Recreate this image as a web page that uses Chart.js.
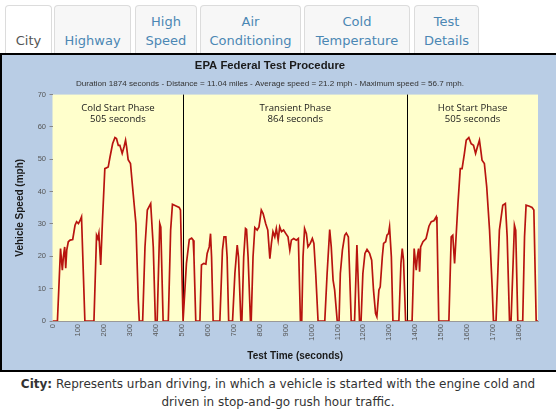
<!DOCTYPE html>
<html>
<head>
<meta charset="utf-8">
<script src="https://cdn.jsdelivr.net/npm/chart.js@4.4.1/dist/chart.umd.min.js"></script>
<style>
  html,body{margin:0;padding:0;}
  body{width:556px;height:413px;overflow:hidden;background:#fff;position:relative;font-family:'DejaVu Sans',Verdana,sans-serif;}
  .tab{position:absolute;top:5px;height:48px;box-sizing:border-box;border:1px solid #dcdcdc;border-bottom:none;border-radius:4px 4px 0 0;background:#f7f7f7;color:#4b87b4;font-size:13px;line-height:18.4px;text-align:center;display:flex;flex-direction:column;justify-content:flex-end;padding-bottom:3px;}
  .tab.active{background:#fff;color:#555;}
  #panel{position:absolute;left:0;top:53px;width:560px;height:315px;border:2px solid #000;background:#b9cde5;}
  #panel canvas{position:absolute;left:0;top:0;}
  #caption{position:absolute;left:0;top:375px;width:556px;text-align:center;font-size:12px;line-height:18px;color:#333;}
</style>
</head>
<body>
<div class="tab active" style="left:5px;width:47px;">City</div>
<div class="tab" style="left:54px;width:77px;">Highway</div>
<div class="tab" style="left:135px;width:62px;">High<br>Speed</div>
<div class="tab" style="left:200px;width:101px;">Air<br>Conditioning</div>
<div class="tab" style="left:304px;width:106px;">Cold<br>Temperature</div>
<div class="tab" style="left:414px;width:65px;">Test<br>Details</div>
<div id="panel"><canvas id="c" width="552" height="315"></canvas></div>
<div id="caption"><b>City:</b> Represents urban driving, in which a vehicle is started with the engine cold and<br>driven in stop-and-go rush hour traffic.</div>
<script>
// ---- data ----
const timeSec = [
  0,19,31,38,42,47,51,55,61,68,78,87,93,100,106,112,125,160,170,175,179,186,193,202,215,222,232,241,247,254,260,269,276,282,286,292,301,309,322,331,335,348,357,366,379,389,397,404,414,418,427,447,456,463,479,489,494,504,
  507,517,528,537,543,546,553,569,575,584,592,597,605,610,614,620,646,656,662,669,674,680,695,704,713,718,727,731,738,745,749,755,764,767,774,781,790,797,806,813,823,831,839,845,851,858,864,871,877,884,892,900,909,916,922,931,941,949,954,957,962,967,973,980,986,995,1003,1009,1016,1025,1051,1060,1070,1076,1083,1089,1099,1106,1111,1119,1128,1134,1142,1147,1153,1166,1175,1179,1185,1191,1198,1206,1214,1224,1232,1239,1247,1252,1260,1265,1273,1278,1286,1291,1297,1301,1308,1314,1337,1345,1350,1355,1363,
  1388,1396,1404,1408,1413,1417,1421,1430,1442,1453,1462,1472,1481,1484,1491,1530,1539,1545,1552,1565,1574,1581,1590,1597,1607,1616,1625,1633,1640,1648,1654,1658,1667,1676,1687,1697,1702,1712,1725,1738,1748,1755,1764,1770,1783,1788,1796,1815,1822,1828,1841,1851,1858,1867,1874
];
const speedMph = [
  0,0,22.4,15.7,19.8,22.9,16.3,21.9,24.5,25,25.2,29.6,30.7,30.1,31,32.2,0,0,26.5,25.5,27.1,17.3,31.2,47.1,47.6,50.7,54.8,56.7,56.4,54.3,54.3,51.8,53.8,55.9,53.8,49.9,48.7,41.5,30.1,6.5,0,0,22.9,34.3,36.3,22.9,0,0,30.1,29,0,0,28.1,36.1,35.5,35.1,34.3,0,
  0,17.8,25.2,25.6,25,20,0,0,17.3,17.8,17.6,20.9,22.9,27,19.8,0,0,21.9,26,26,19.8,0,0,14.7,23.5,19.8,0,0,19.8,28.6,28.3,19.8,0,0,19.8,28.9,28.1,29.1,34.3,33.2,30.1,28.1,19.3,24,27.6,26,28.6,25,29.1,27.6,28.1,27.1,26,21.9,25,25.5,25,25.5,9.6,0,0,19.8,28.6,27,22.9,24,25.5,24,14.7,0,0,14.7,28.3,22.9,12.6,9.6,0,0,14.7,21.9,26.5,27.2,26,14.7,0,0,23.5,14.7,0,0,14.7,20.9,22.1,20.9,18.8,9.6,2.3,1.3,9.6,10.6,19.8,24,24.5,26.5,27,29.1,19.8,0,0,17.8,22.4,18.8,0,
  0,22.4,15.7,19.8,22.4,15.2,22.9,24.5,25.5,29.3,30.7,31,32.2,30.1,0,0,26,26.5,17.8,36.3,47.1,47.1,51.8,55.9,56.7,54.8,54.3,51.8,53.8,55.9,52.3,49.7,48.7,41.5,28.1,10.6,0,0,28.1,35.8,36.3,26,0,0,29.6,28,0,0,26,35.8,35.5,35.1,34.3,0,0
];
const xTickValues = [0,100,200,300,400,500,600,700,800,900,1000,1100,1200,1300,1400,1500,1600,1700,1800];
const yTickValues = [0,10,20,30,40,50,60,70];
const phaseBounds = [0,505,1369,1874];
const phaseNames = ['Cold Start Phase','Transient Phase','Hot Start Phase'];
const phaseDurations = ['505 seconds','864 seconds','505 seconds'];
const chartTitle = 'EPA Federal Test Procedure';
const chartSubtitle = 'Duration 1874 seconds - Distance = 11.04 miles - Average speed = 21.2 mph - Maximum speed = 56.7 mph.';
const xAxisTitle = 'Test Time (seconds)';
const yAxisTitle = 'Vehicle Speed (mph)';

// ---- chart ----
Chart.defaults.font.family = "'Liberation Sans', Arial, sans-serif";

const plotBg = {
  id:'plotBg',
  beforeDraw(chart){
    const {ctx, chartArea:a} = chart;
    ctx.save();
    ctx.fillStyle = '#ffffcc';
    ctx.fillRect(a.left, a.top, a.right-a.left, a.bottom-a.top);
    ctx.restore();
  }
};
const phases = {
  id:'phases',
  beforeDatasetsDraw(chart){
    const {ctx, chartArea:a, scales:{x}} = chart;
    ctx.save();
    ctx.strokeStyle = '#000';
    ctx.lineWidth = 1;
    for (let i=1;i<phaseBounds.length-1;i++){
      const px = Math.round(x.getPixelForValue(phaseBounds[i]))+0.5;
      ctx.beginPath(); ctx.moveTo(px,a.top); ctx.lineTo(px,a.bottom); ctx.stroke();
    }
    ctx.fillStyle = '#1a1a1a';
    ctx.font = "9.6px 'Open Sans', sans-serif";
    ctx.textAlign = 'center';
    ctx.textBaseline = 'middle';
    for (let i=0;i<phaseNames.length;i++){
      const cx = (x.getPixelForValue(phaseBounds[i]) + x.getPixelForValue(phaseBounds[i+1]))/2;
      ctx.fillText(phaseNames[i], cx, a.top+13.8);
      ctx.fillText(phaseDurations[i], cx, a.top+24.8);
    }
    ctx.restore();
  }
};

new Chart(document.getElementById('c'), {
  type:'line',
  data:{ datasets:[{
    data: timeSec.map((t,i)=>({x:t, y:speedMph[i]})),
    borderColor:'#b8140f', borderWidth:1.7, pointRadius:0, tension:0, fill:false
  }]},
  options:{
    responsive:false, animation:false,
    layout:{ padding:{left:0, right:16, top:0, bottom:0} },
    plugins:{
      legend:{display:false}, tooltip:{enabled:false},
      title:{display:true, text:chartTitle, color:'#1a1a1a', font:{size:11.3, weight:'bold'}, padding:{top:4.2, bottom:0}},
      subtitle:{display:true, text:chartSubtitle, color:'#333', font:{size:8.1}, padding:{top:6.6, bottom:5.5}}
    },
    scales:{
      x:{
        type:'linear', min:0, max:1874,
        afterBuildTicks:s=>{ s.ticks = xTickValues.map(v=>({value:v})); },
        afterFit:s=>{ s.height = 49; },
        ticks:{ minRotation:90, maxRotation:90, autoSkip:false, font:{size:7.5}, color:'#555', padding:3, callback:v=>String(v) },
        grid:{ drawOnChartArea:false, drawTicks:false },
        border:{ display:true, color:'#999', dash:[1,1.5] },
        title:{ display:true, text:xAxisTitle, color:'#1a1a1a', font:{size:10, weight:'bold'}, padding:{top:4, bottom:7.3} }
      },
      y:{
        min:0, max:70,
        afterBuildTicks:s=>{ s.ticks = yTickValues.map(v=>({value:v})); },
        afterFit:s=>{ s.width = 50.5; },
        ticks:{ font:{size:7.5}, color:'#555', padding:3.5, callback:v=>String(v) },
        grid:{ drawOnChartArea:false, drawTicks:true, tickLength:3, color:'#888' },
        border:{ display:false },
        title:{ display:true, text:yAxisTitle, color:'#1a1a1a', font:{size:10, weight:'bold'}, padding:{top:12, bottom:0} }
      }
    }
  },
  plugins:[plotBg, phases]
});
</script>
</body>
</html>
